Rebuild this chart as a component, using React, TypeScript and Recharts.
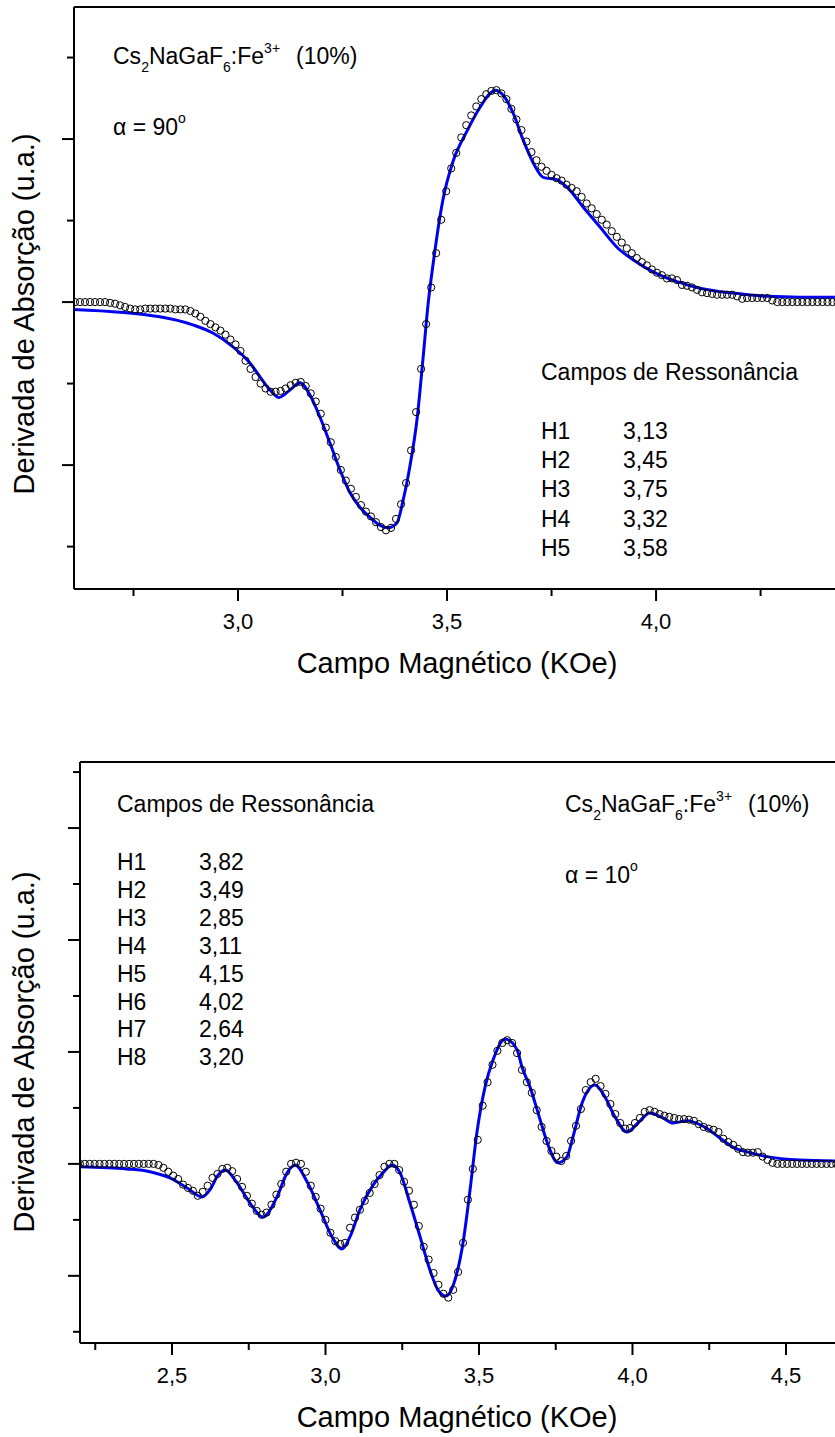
import { ComposedChart, Customized, Line, ReferenceLine, Scatter, XAxis, YAxis } from "recharts"

const FONT = "'Liberation Sans', Arial, sans-serif"
const BLUE = "#0000f0"

// alpha = 90 deg: measured points [field kOe, signal]
const measured90 = [
  [2.61, 0], [2.622, 0], [2.634, 0], [2.646, 0], [2.658, 0], [2.67, 0], [2.682, 0], [2.694, -0.01],
  [2.706, -0.02], [2.718, -0.04], [2.73, -0.06], [2.742, -0.08], [2.754, -0.09], [2.766, -0.09], [2.778, -0.08], [2.79, -0.08],
  [2.802, -0.08], [2.814, -0.08], [2.826, -0.08], [2.838, -0.08], [2.85, -0.09], [2.862, -0.09], [2.874, -0.09], [2.886, -0.11],
  [2.898, -0.14], [2.91, -0.18], [2.922, -0.23], [2.934, -0.27], [2.946, -0.31], [2.958, -0.35], [2.97, -0.4], [2.982, -0.46],
  [2.994, -0.52], [3.006, -0.6], [3.018, -0.72], [3.03, -0.82], [3.042, -0.92], [3.054, -1.0], [3.066, -1.06], [3.078, -1.1],
  [3.09, -1.1], [3.102, -1.09], [3.114, -1.06], [3.126, -1.02], [3.138, -0.99], [3.15, -0.98], [3.162, -1.03], [3.174, -1.12],
  [3.186, -1.22], [3.198, -1.37], [3.21, -1.54], [3.222, -1.72], [3.234, -1.9], [3.246, -2.06], [3.258, -2.19], [3.27, -2.29],
  [3.282, -2.39], [3.294, -2.49], [3.306, -2.57], [3.318, -2.63], [3.33, -2.7], [3.342, -2.76], [3.354, -2.8], [3.366, -2.77],
  [3.378, -2.66], [3.39, -2.48], [3.402, -2.22], [3.414, -1.82], [3.426, -1.35], [3.438, -0.82], [3.45, -0.27], [3.462, 0.18],
  [3.474, 0.6], [3.486, 1.01], [3.498, 1.36], [3.51, 1.64], [3.522, 1.83], [3.534, 2.02], [3.546, 2.17], [3.558, 2.29],
  [3.57, 2.4], [3.582, 2.49], [3.594, 2.55], [3.606, 2.59], [3.618, 2.6], [3.63, 2.56], [3.642, 2.49], [3.654, 2.37],
  [3.666, 2.24], [3.678, 2.11], [3.69, 1.97], [3.702, 1.84], [3.714, 1.74], [3.726, 1.66], [3.738, 1.61], [3.75, 1.56],
  [3.762, 1.52], [3.774, 1.49], [3.786, 1.44], [3.798, 1.4], [3.81, 1.36], [3.822, 1.29], [3.834, 1.21], [3.846, 1.15],
  [3.858, 1.08], [3.87, 1.01], [3.882, 0.95], [3.894, 0.87], [3.906, 0.8], [3.918, 0.73], [3.93, 0.66], [3.942, 0.6],
  [3.954, 0.54], [3.966, 0.49], [3.978, 0.45], [3.99, 0.4], [4.002, 0.36], [4.014, 0.33], [4.026, 0.29], [4.038, 0.29],
  [4.05, 0.27], [4.062, 0.21], [4.074, 0.2], [4.086, 0.18], [4.098, 0.15], [4.11, 0.12], [4.122, 0.11], [4.134, 0.1],
  [4.146, 0.09], [4.158, 0.09], [4.17, 0.09], [4.182, 0.09], [4.194, 0.07], [4.206, 0.04], [4.218, 0.05], [4.23, 0.05],
  [4.242, 0.05], [4.254, 0.05], [4.266, 0.05], [4.278, 0.02], [4.29, 0], [4.302, 0], [4.314, 0], [4.326, 0],
  [4.338, 0], [4.35, 0], [4.362, 0], [4.374, 0], [4.386, 0], [4.398, 0], [4.41, 0], [4.422, 0], [4.434, 0],
]

// alpha = 90 deg: fitted curve
const fit90 = [
  [2.608, -0.09], [2.813, -0.18], [2.892, -0.28], [2.94, -0.38], [2.988, -0.55], [3.029, -0.75], [3.053, -0.92],
  [3.077, -1.08], [3.098, -1.17], [3.124, -1.08], [3.148, -0.99], [3.172, -1.14], [3.196, -1.41], [3.22, -1.73],
  [3.244, -2.06], [3.268, -2.34], [3.292, -2.52], [3.316, -2.64], [3.34, -2.74], [3.359, -2.77], [3.38, -2.71],
  [3.395, -2.43], [3.411, -2.02], [3.428, -1.45], [3.443, -0.67], [3.455, -0.01], [3.467, 0.48], [3.49, 1.25],
  [3.514, 1.72], [3.548, 2.1], [3.579, 2.39], [3.603, 2.56], [3.615, 2.6], [3.634, 2.54], [3.658, 2.32],
  [3.682, 1.99], [3.706, 1.71], [3.73, 1.53], [3.763, 1.5], [3.787, 1.41], [3.825, 1.17], [3.866, 0.92],
  [3.907, 0.67], [3.945, 0.52], [3.993, 0.37], [4.05, 0.25], [4.105, 0.17], [4.184, 0.11], [4.266, 0.07],
  [4.344, 0.06], [4.44, 0.06],
]

// alpha = 10 deg: measured points
const measured10 = [
  [2.2, 0], [2.216, 0], [2.232, 0], [2.248, 0], [2.264, 0], [2.28, 0], [2.296, 0], [2.312, 0],
  [2.328, 0], [2.344, 0], [2.36, 0], [2.376, 0], [2.392, 0], [2.408, 0], [2.424, 0], [2.44, 0],
  [2.456, -0.02], [2.472, -0.07], [2.488, -0.14], [2.504, -0.21], [2.52, -0.27], [2.536, -0.37], [2.552, -0.43], [2.568, -0.48],
  [2.584, -0.57], [2.6, -0.5], [2.616, -0.39], [2.632, -0.25], [2.648, -0.18], [2.664, -0.09], [2.68, -0.07], [2.696, -0.13],
  [2.712, -0.27], [2.728, -0.41], [2.744, -0.57], [2.76, -0.71], [2.776, -0.84], [2.792, -0.91], [2.808, -0.87], [2.824, -0.73],
  [2.84, -0.55], [2.856, -0.36], [2.872, -0.14], [2.888, 0], [2.904, 0.02], [2.92, 0], [2.936, -0.14], [2.952, -0.39],
  [2.968, -0.59], [2.984, -0.8], [3.0, -1.0], [3.016, -1.23], [3.032, -1.38], [3.048, -1.43], [3.064, -1.41], [3.08, -1.14],
  [3.096, -0.96], [3.112, -0.82], [3.128, -0.66], [3.144, -0.52], [3.16, -0.36], [3.176, -0.2], [3.192, -0.05], [3.208, 0],
  [3.224, 0], [3.24, -0.11], [3.256, -0.32], [3.272, -0.48], [3.288, -0.73], [3.304, -1.11], [3.32, -1.48], [3.336, -1.71],
  [3.352, -1.95], [3.368, -2.16], [3.384, -2.32], [3.4, -2.39], [3.416, -2.25], [3.432, -1.93], [3.448, -1.41], [3.464, -0.64],
  [3.48, -0.09], [3.496, 0.43], [3.512, 1.04], [3.528, 1.46], [3.544, 1.77], [3.56, 2.02], [3.576, 2.16], [3.592, 2.21],
  [3.608, 2.16], [3.624, 1.98], [3.64, 1.68], [3.656, 1.46], [3.672, 1.27], [3.688, 0.96], [3.704, 0.66], [3.72, 0.41],
  [3.736, 0.23], [3.752, 0.13], [3.768, 0.05], [3.784, 0.14], [3.8, 0.41], [3.816, 0.68], [3.832, 0.98], [3.848, 1.32],
  [3.864, 1.46], [3.88, 1.52], [3.896, 1.39], [3.912, 1.25], [3.928, 1.07], [3.944, 0.89], [3.96, 0.73], [3.976, 0.63],
  [3.992, 0.64], [4.008, 0.73], [4.024, 0.82], [4.04, 0.93], [4.056, 0.96], [4.072, 0.93], [4.088, 0.89], [4.104, 0.86],
  [4.12, 0.84], [4.136, 0.82], [4.152, 0.8], [4.168, 0.8], [4.184, 0.79], [4.2, 0.77], [4.216, 0.71], [4.232, 0.66],
  [4.248, 0.63], [4.264, 0.61], [4.28, 0.57], [4.296, 0.45], [4.312, 0.39], [4.328, 0.34], [4.344, 0.27], [4.36, 0.21],
  [4.376, 0.2], [4.392, 0.2], [4.408, 0.21], [4.424, 0.13], [4.44, 0.07], [4.456, 0.02], [4.472, 0], [4.488, 0],
  [4.504, 0], [4.52, 0], [4.536, 0], [4.552, 0], [4.568, 0], [4.584, 0], [4.6, 0], [4.616, 0],
  [4.632, 0], [4.648, 0], [4.664, 0],
]

// alpha = 10 deg: fitted curve
const fit10 = [
  [2.2, -0.05], [2.353, -0.09], [2.428, -0.14], [2.493, -0.25], [2.549, -0.43], [2.598, -0.59], [2.624, -0.46],
  [2.65, -0.2], [2.673, -0.11], [2.712, -0.34], [2.754, -0.7], [2.796, -0.95], [2.842, -0.59], [2.875, -0.16],
  [2.901, -0.02], [2.94, -0.32], [2.982, -0.82], [3.021, -1.3], [3.054, -1.52], [3.08, -1.3], [3.112, -0.82],
  [3.155, -0.38], [3.187, -0.16], [3.217, -0.02], [3.243, -0.16], [3.275, -0.7], [3.308, -1.3], [3.34, -1.89],
  [3.366, -2.25], [3.392, -2.36], [3.422, -2.07], [3.448, -1.41], [3.471, -0.46], [3.493, 0.55], [3.52, 1.38],
  [3.546, 1.86], [3.585, 2.23], [3.624, 2.04], [3.64, 1.73], [3.666, 1.38], [3.699, 0.79], [3.725, 0.34],
  [3.757, 0.02], [3.787, 0.13], [3.806, 0.48], [3.836, 1.09], [3.878, 1.41], [3.91, 1.2], [3.943, 0.84],
  [3.982, 0.57], [4.018, 0.73], [4.057, 0.91], [4.099, 0.82], [4.132, 0.73], [4.177, 0.77], [4.197, 0.75],
  [4.243, 0.63], [4.285, 0.46], [4.327, 0.3], [4.383, 0.2], [4.438, 0.13], [4.546, 0.07], [4.676, 0.05],
]

const xTicks90 = [2.75, 3.0, 3.25, 3.5, 3.75, 4.0, 4.25]
const yTicks90 = [-3, -2, -1, 0, 1, 2, 3]
const xTicks10 = [2.25, 2.5, 2.75, 3.0, 3.25, 3.5, 3.75, 4.0, 4.25, 4.5]
const yTicks10 = [-3, -2, -1, 0, 1, 2, 3, 4, 5, 6, 7]

const fields90 = [
  ["H1", "3,13"], ["H2", "3,45"], ["H3", "3,75"], ["H4", "3,32"], ["H5", "3,58"],
]
const fields10 = [
  ["H1", "3,82"], ["H2", "3,49"], ["H3", "2,85"], ["H4", "3,11"],
  ["H5", "4,15"], ["H6", "4,02"], ["H7", "2,64"], ["H8", "3,20"],
]

const toPoints = (rows: number[][]) => rows.map(([x, y]) => ({ x, y }))

const isHalf = (v: number) => Math.abs(v * 2 - Math.round(v * 2)) < 1e-6

function XTick(props: any) {
  const { x, y, payload } = props
  const major = isHalf(payload.value)
  return (
    <g>
      <line x1={x} x2={x} y1={y} y2={y + (major ? 12 : 7)} stroke="#000" strokeWidth={2} />
      {major && (
        <text x={x} y={y + 40} textAnchor="middle" fontSize={22} fontFamily={FONT} fill="#000">
          {payload.value.toFixed(1).replace(".", ",")}
        </text>
      )}
    </g>
  )
}

function YTick(props: any) {
  const { x, y, payload } = props
  const major = payload.value % 2 === 0
  return <line x1={x} x2={x - (major ? 12 : 7)} y1={y} y2={y} stroke="#000" strokeWidth={2} />
}

const OpenCircle = (props: any) => (
  <circle cx={props.cx} cy={props.cy} r={3.6} fill="none" stroke="#000" strokeWidth={1} />
)

function Formula({ x, y }: { x: number; y: number }) {
  return (
    <text x={x} y={y} fontSize={23} fontFamily={FONT} fill="#000">
      Cs<tspan fontSize={14} dy={8}>2</tspan>
      <tspan dy={-8}>NaGaF</tspan>
      <tspan fontSize={14} dy={8}>6</tspan>
      <tspan dy={-8}>:Fe</tspan>
      <tspan fontSize={14} dy={-11}>3+</tspan>
      <tspan dy={11} dx={16}>(10%)</tspan>
    </text>
  )
}

function Angle({ x, y, value }: { x: number; y: number; value: string }) {
  return (
    <text x={x} y={y} fontSize={23} fontFamily={FONT} fill="#000">
      α = {value}
      <tspan fontSize={14} dy={-12}>o</tspan>
    </text>
  )
}

function Fields({ x, y, dx, rows, first, step }: any) {
  return (
    <g fontSize={23} fontFamily={FONT} fill="#000">
      <text x={x} y={y}>Campos de Ressonância</text>
      {rows.map((r: string[], i: number) => (
        <g key={r[0]}>
          <text x={x} y={first + i * step}>{r[0]}</text>
          <text x={x + dx} y={first + i * step}>{r[1]}</text>
        </g>
      ))}
    </g>
  )
}

function Titles({ xTitleY, yTitleY }: { xTitleY: number; yTitleY: number }) {
  return (
    <g fontSize={29} fontFamily={FONT} fill="#000" textAnchor="middle">
      <text x={457} y={xTitleY}>Campo Magnético (KOe)</text>
      <text transform={`translate(34,${yTitleY}) rotate(-90)`}>Derivada de Absorção (u.a.)</text>
    </g>
  )
}

const axisLine = { stroke: "#000", strokeWidth: 2 }

export default function App() {
  return (
    <div style={{ position: "relative", width: 835, height: 1437, overflow: "hidden", background: "#fff" }}>
      <style>{"body{margin:0;background:#fff}"}</style>

      <div style={{ position: "absolute", left: 0, top: 0 }}>
        <ComposedChart width={900} height={700} margin={{ top: 7, right: 60, bottom: 0, left: 0 }}>
          <XAxis
            dataKey="x"
            type="number"
            domain={[2.6077, 4.44]}
            allowDataOverflow
            ticks={xTicks90}
            height={111}
            tickSize={0}
            tickMargin={0}
            tick={<XTick />}
            axisLine={axisLine}
          />
          <YAxis
            dataKey="y"
            type="number"
            domain={[-3.52, 3.62]}
            allowDataOverflow
            ticks={yTicks90}
            width={74}
            tickSize={0}
            tickMargin={0}
            tick={<YTick />}
            axisLine={axisLine}
          />
          <ReferenceLine y={3.62} stroke="#000" strokeWidth={2} />
          <Scatter data={toPoints(measured90)} shape={OpenCircle} isAnimationActive={false} />
          <Line
            data={toPoints(fit90)}
            dataKey="y"
            type="monotone"
            stroke={BLUE}
            strokeWidth={3}
            dot={false}
            activeDot={false}
            isAnimationActive={false}
          />
          <Customized
            component={
              <g>
                <Titles xTitleY={673} yTitleY={314} />
                <Formula x={113} y={64} />
                <Angle x={113} y={135} value="90" />
                <Fields x={541} y={380} dx={82} rows={fields90} first={439} step={29.2} />
              </g>
            }
          />
        </ComposedChart>
      </div>

      <div style={{ position: "absolute", left: 0, top: 720 }}>
        <ComposedChart width={900} height={717} margin={{ top: 42, right: 60, bottom: 0, left: 0 }}>
          <XAxis
            dataKey="x"
            type="number"
            domain={[2.2003, 4.676]}
            allowDataOverflow
            ticks={xTicks10}
            height={94}
            tickSize={0}
            tickMargin={0}
            tick={<XTick />}
            axisLine={axisLine}
          />
          <YAxis
            dataKey="y"
            type="number"
            domain={[-3.2, 7.18]}
            allowDataOverflow
            ticks={yTicks10}
            width={80}
            tickSize={0}
            tickMargin={0}
            tick={<YTick />}
            axisLine={axisLine}
          />
          <ReferenceLine y={7.18} stroke="#000" strokeWidth={2} />
          <Scatter data={toPoints(measured10)} shape={OpenCircle} isAnimationActive={false} />
          <Line
            data={toPoints(fit10)}
            dataKey="y"
            type="monotone"
            stroke={BLUE}
            strokeWidth={3}
            dot={false}
            activeDot={false}
            isAnimationActive={false}
          />
          <Customized
            component={
              <g>
                <Titles xTitleY={707} yTitleY={332} />
                <Fields x={117} y={92} dx={82} rows={fields10} first={150} step={27.9} />
                <Formula x={565} y={92} />
                <Angle x={565} y={163} value="10" />
              </g>
            }
          />
        </ComposedChart>
      </div>
    </div>
  )
}
